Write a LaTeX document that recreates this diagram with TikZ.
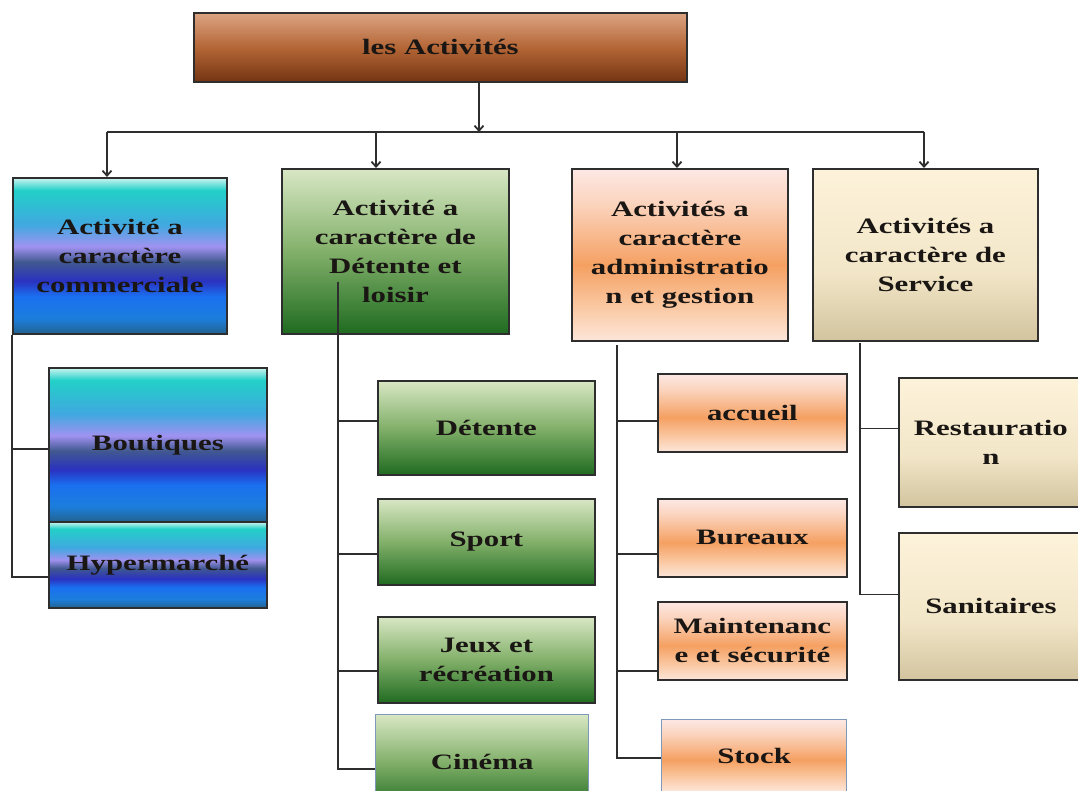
\documentclass[tikz,border=0pt]{standalone}
\usepackage{fontspec}
\newfontfamily\boxfont{Liberation Serif}[FakeStretch=1.4]
\usetikzlibrary{arrows.meta, calc}

% colours
\definecolor{edge}{HTML}{2E2E2E}
\definecolor{lightedge}{HTML}{7E99B8}
\definecolor{ink}{HTML}{1A1614}
\definecolor{brownA}{HTML}{DCA482}
\definecolor{brownB}{HTML}{B46636}
\definecolor{brownC}{HTML}{743412}
\definecolor{greenA}{HTML}{D8E7C4}
\definecolor{greenB}{HTML}{82B06A}
\definecolor{greenC}{HTML}{1F6B20}
\definecolor{orangeA}{HTML}{FDE8E4}
\definecolor{orangeB}{HTML}{FBD4BE}
\definecolor{orangeC}{HTML}{F5A062}
\definecolor{orangeD}{HTML}{FAC8A2}
\definecolor{orangeE}{HTML}{FDE6DA}
\definecolor{beigeA}{HTML}{FDF3DA}
\definecolor{beigeB}{HTML}{F2E6C8}
\definecolor{beigeC}{HTML}{D2C49E}
\definecolor{blueA}{HTML}{CCF4F0}
\definecolor{blueB}{HTML}{22D0C8}
\definecolor{blueC}{HTML}{40A8E0}
\definecolor{blueD}{HTML}{A092F0}
\definecolor{blueE}{HTML}{405890}
\definecolor{blueF}{HTML}{2A32C0}
\definecolor{blueG}{HTML}{1A70F0}
\definecolor{blueH}{HTML}{1C7EDC}
\definecolor{blueI}{HTML}{22628E}

% fills, bottom (25bp) to top (75bp)
\pgfdeclareverticalshading{brownfill}{100bp}{color(0bp)=(brownC); color(25bp)=(brownC); color(50bp)=(brownB); color(75bp)=(brownA); color(100bp)=(brownA)}
\pgfdeclareverticalshading{greenfill}{100bp}{color(0bp)=(greenC); color(25bp)=(greenC); color(50bp)=(greenB); color(75bp)=(greenA); color(100bp)=(greenA)}
\pgfdeclareverticalshading{orangefill}{100bp}{color(0bp)=(orangeE); color(25bp)=(orangeE); color(35bp)=(orangeD); color(47bp)=(orangeC); color(65bp)=(orangeB); color(75bp)=(orangeA); color(100bp)=(orangeA)}
\pgfdeclareverticalshading{beigefill}{100bp}{color(0bp)=(beigeC); color(25bp)=(beigeC); color(45bp)=(beigeB); color(75bp)=(beigeA); color(100bp)=(beigeA)}
\pgfdeclareverticalshading{bluefill}{100bp}{color(0bp)=(blueI); color(25bp)=(blueI); color(30bp)=(blueH); color(37bp)=(blueG); color(42bp)=(blueF); color(48bp)=(blueE); color(53bp)=(blueD); color(60bp)=(blueC); color(71bp)=(blueB); color(75bp)=(blueA); color(100bp)=(blueA)}

\tikzset{
  box/.style={draw=edge, line width=1.8pt, rectangle, anchor=north west, inner sep=2pt,
    align=center, text=ink, font={\boxfont\bfseries\fontsize{22}{29}\selectfont}},
  boxsize/.style 2 args={minimum width=#1pt, minimum height=#2pt},
  headbox/.style={box, shade, shading=brownfill},
  combox/.style={box, shade, shading=bluefill},
  loibox/.style={box, shade, shading=greenfill},
  admbox/.style={box, shade, shading=orangefill},
  serbox/.style={box, shade, shading=beigefill},
  thinedge/.style={draw=lightedge, line width=1.2pt},
  link/.style={draw=edge, line width=1.8pt},
  arr/.style={link, -{Straight Barb[length=5pt, width=9pt]}},
}

\begin{document}
\begin{tikzpicture}[x=1pt, y=-1pt]
    \useasboundingbox (0,0) rectangle (1078,791);
    \clip (0,0) rectangle (1078,791);
    \fill[white] (0,0) rectangle (1078,791);

    % root and the four families
    \node[headbox, boxsize={493}{69}] (act) at (193,12) {les Activités};
    \node[combox, boxsize={214}{156}] (com) at (12,177) {Activité a\\caractère\\commerciale};
    \node[loibox, boxsize={227}{165}] (loi) at (281,168) {Activité a\\caractère de\\Détente et\\loisir};
    \node[admbox, boxsize={216}{172}] (adm) at (571,168) {Activités a\\caractère\\administratio\\n et gestion};
    \node[serbox, boxsize={225}{172}] (ser) at (812,168) {Activités a\\caractère de\\Service};

    % commerce
    \node[combox, boxsize={218}{154}] (bou) at (48,367) {Boutiques};
    \node[combox, boxsize={218}{86}] (hyp) at (48,521) {Hypermarché};

    % detente
    \node[loibox, boxsize={217}{94}] (det) at (377,380) {Détente};
    \node[loibox, boxsize={217}{86}] (spo) at (377,498) {Sport};
    \node[loibox, boxsize={217}{86}] (jeu) at (377,616) {Jeux et\\récréation};
    \node[loibox, thinedge, boxsize={213}{95}] (cin) at (375,714) {Cinéma};

    % administration
    \node[admbox, boxsize={189}{78}] (acc) at (657,373) {accueil};
    \node[admbox, boxsize={189}{78}] (bur) at (657,498) {Bureaux};
    \node[admbox, boxsize={189}{78}] (mai) at (657,601) {Maintenanc\\e et sécurité};
    \node[admbox, thinedge, boxsize={185}{72}] (sto) at (661,719) {Stock};

    % service
    \node[serbox, boxsize={184}{129}] (res) at (898,377) {Restauratio\\n};
    \node[serbox, boxsize={184}{147}] (san) at (898,532) {Sanitaires};

    % distribution bar under the root
    \coordinate (hub) at (479,132);
    \coordinate (dCom) at (107,132);
    \coordinate (dLoi) at (376,132);
    \coordinate (dAdm) at (677,132);
    \coordinate (dSer) at (924,132);
    \draw[arr] (act.south -| hub) -- (hub);
    \draw[link] (dCom) -- (dSer);
    \foreach \d/\b in {dCom/com, dLoi/loi, dAdm/adm, dSer/ser}
        \draw[arr] (\d) -- (\d |- \b.north);

    % branches
    \draw[link] (com.south west) |- ([yshift=-4pt]bou.west);
    \draw[link] (com.south west) |- ([yshift=-12pt]hyp.west);

    \coordinate (gTop) at (338,282);
    \foreach \b/\s in {det/7, spo/-12, jeu/-11, cin/-6.5}
        \draw[link] (gTop) |- ([yshift=\s pt]\b.west);

    \coordinate (oTop) at (617,345);
    \foreach \b/\s in {acc/-8, bur/-16, mai/-30, sto/-2}
        \draw[link] (oTop) |- ([yshift=\s pt]\b.west);

    \coordinate (sTop) at (860,343);
    \foreach \b/\s in {res/14, san/12}
        \draw[link] (sTop) |- ([yshift=\s pt]\b.west);
\end{tikzpicture}
\end{document}
